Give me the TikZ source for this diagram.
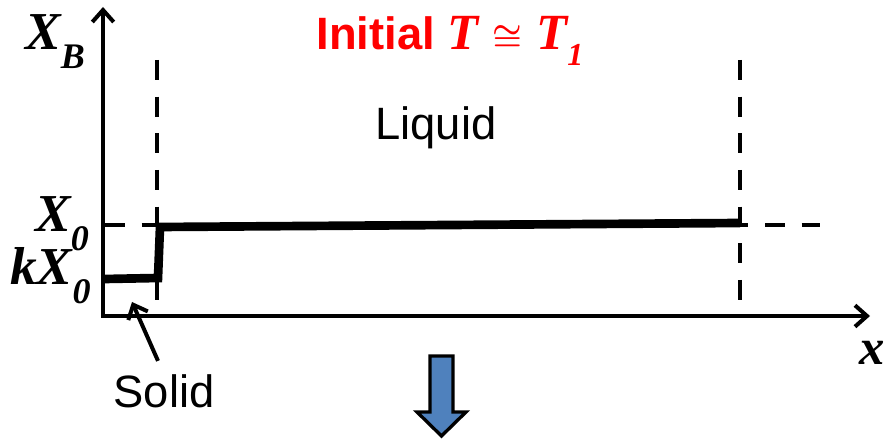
\documentclass[tikz,border=0pt]{standalone}
\usepackage{fontspec}
\setmainfont{Liberation Serif}
\setsansfont{Liberation Sans}
\usetikzlibrary{arrows.meta}
\definecolor{TitleRed}{HTML}{FF0000}
\definecolor{ArrowBlue}{HTML}{4F81BD}
\newcommand\lowsub[1]{\raisebox{-0.34em}{\fontsize{27}{27}\selectfont #1}}

\begin{document}
\begin{tikzpicture}[x=0.75pt,y=0.75pt,
  axisline/.style={line width=3pt,-{Straight Barb[length=9pt,width=16pt]}},
  guide/.style={line width=3pt,dash pattern=on 15pt off 12.5pt},
  profile/.style={line width=6.5pt,line join=miter},
  varlabel/.style={inner sep=0pt,anchor=base west,font=\fontsize{40}{40}\selectfont\bfseries\itshape},
  wordlabel/.style={inner sep=0pt,anchor=base,font=\fontsize{34}{34}\selectfont\sffamily}]
\path[use as bounding box] (0,0) rectangle (886,439);
% axes
\coordinate (O) at (103,123);
\coordinate (yend) at (103,432);
\coordinate (xend) at (870,123);
\draw[axisline] ([yshift=-1.5pt]O) -- (yend);
\draw[axisline] ([xshift=-1.5pt]O) -- (xend);
% interface guides
\coordinate (gl1) at (157,379);
\coordinate (gl2) at (157,134);
\coordinate (gr1) at (740,379);
\coordinate (gr2) at (740,134);
\coordinate (gx1) at (105,214);
\coordinate (gx2) at (820,214);
\draw[guide] (gl1) -- (gl2);
\draw[guide] (gr1) -- (gr2);
\draw[guide] (gx1) -- (gx2);
% composition profile
\coordinate (p1) at (105,160);
\coordinate (p2) at (158,161);
\coordinate (p3) at (160,212);
\coordinate (p4) at (740,216);
\draw[profile] (p1) -- (p2) -- (p3) -- (p4);
% labels
\node[varlabel] (xb) at (25,389) {X\lowsub{B}};
\node[varlabel] (xzero) at (35,207) {X\lowsub{0}};
\node[varlabel] (kxzero) at (10,154) {kX\lowsub{0}};
\node[varlabel,font=\fontsize{38}{38}\selectfont\bfseries\itshape] (xvar) at (859,74) {x};
\node[wordlabel,text=TitleRed] (title) at (450,389)
  {\textbf{Initial} {\fontsize{38}{38}\selectfont\rmfamily\bfseries\itshape T\;\boldmath$\cong$\;T\raisebox{-0.3em}{\fontsize{24}{24}\selectfont 1}}};
\node[wordlabel] (liquid) at (436,299) {Liquid};
\node[wordlabel] (solid) at (164,31) {Solid};
\coordinate (solidtip) at (132,137);
\draw[line width=3pt,-{Straight Barb[length=9pt,width=16pt]}] ([shift={(-6,14)}]solid.north) -- (solidtip);
% step arrow
\filldraw[fill=ArrowBlue,draw=black,line width=2.5pt,line join=miter]
  (430,83) -- (453,83) -- (453,27) -- (466,27) -- (441.5,3) -- (417,27) -- (430,27) -- cycle;
\end{tikzpicture}
\end{document}
